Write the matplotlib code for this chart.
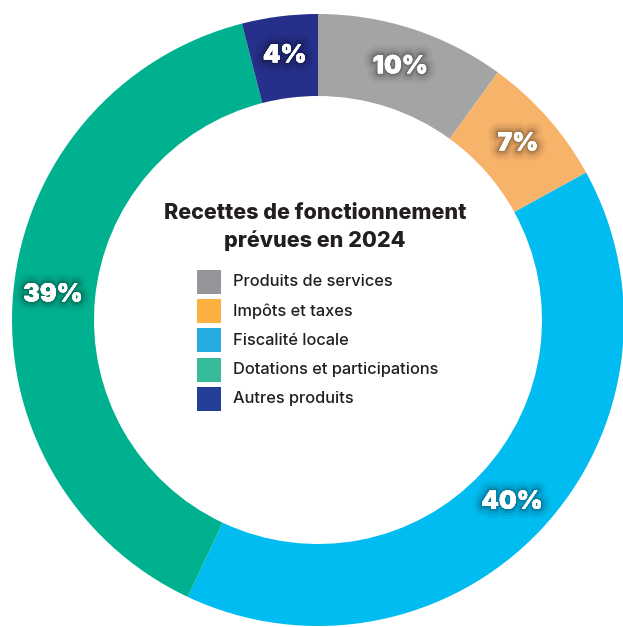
import matplotlib
matplotlib.use("Agg")
import matplotlib.pyplot as plt
import matplotlib.patheffects as pe
from matplotlib.patches import Rectangle
import math

# Data
categories = ["Produits de services", "Impôts et taxes", "Fiscalité locale",
              "Dotations et participations", "Autres produits"]
values = [10, 7, 40, 39, 4]
ring_colors = ["#A3A4A4", "#F8B36A", "#00BCF0", "#00B190", "#262F89"]
legend_colors = ["#939598", "#FBB040", "#27AAE1", "#36BC9B", "#233E96"]
title_lines = ["Recettes de fonctionnement", "prévues en 2024"]

W, H = 623, 627
fig = plt.figure(figsize=(W / 100, H / 100), dpi=100)
ax = fig.add_axes([0, 0, 1, 1])

cx, cy = 318, H - 320
R = 306
ring_w = 82

wedges, _ = ax.pie(values, colors=ring_colors, startangle=90, counterclock=False,
                   center=(cx, cy), radius=R,
                   wedgeprops=dict(width=ring_w, linewidth=0))
ax.set_xlim(0, W)
ax.set_ylim(0, H)
ax.set_aspect("equal")
ax.axis("off")

# Percentage labels
shadow = [pe.withStroke(linewidth=14, foreground=(0, 0, 0, 0.04)),
          pe.withStroke(linewidth=10, foreground=(0, 0, 0, 0.06)),
          pe.withStroke(linewidth=6, foreground=(0, 0, 0, 0.09)),
          pe.withStroke(linewidth=3, foreground=(0, 0, 0, 0.14)),
          pe.Normal()]
total = sum(values)
cum = 0
r_lab = 0.87 * R
for v in values:
    mid = (cum + v / 2) / total
    ang = math.radians(90 - 360 * mid)
    x = cx + r_lab * math.cos(ang)
    y = cy + r_lab * math.sin(ang)
    ax.text(x, y, f"{v}%", ha="center", va="center", color="white",
            fontsize=18, fontweight="black", family=["Inter", "DejaVu Sans"],
            path_effects=shadow)
    cum += v

# Title
for k, line in enumerate(title_lines):
    ax.text(315, H - (213 + 28 * k), line, ha="center", va="center", fontsize=15.5,
            fontweight="heavy", color="#231F20", family=["Inter", "DejaVu Sans"])

# Legend
y0 = 282
step = 29.2
sq = 24
for i, (lab, col) in enumerate(zip(categories, legend_colors)):
    yc = H - (y0 + i * step)
    ax.add_patch(Rectangle((197, yc - sq / 2), sq, sq, facecolor=col, edgecolor="none"))
    ax.text(233, yc, lab, ha="left", va="center", fontsize=11.8, color="#231F20",
            fontweight="medium", family=["Inter", "DejaVu Sans"])

fig.savefig("out.png", dpi=100, facecolor="white")
